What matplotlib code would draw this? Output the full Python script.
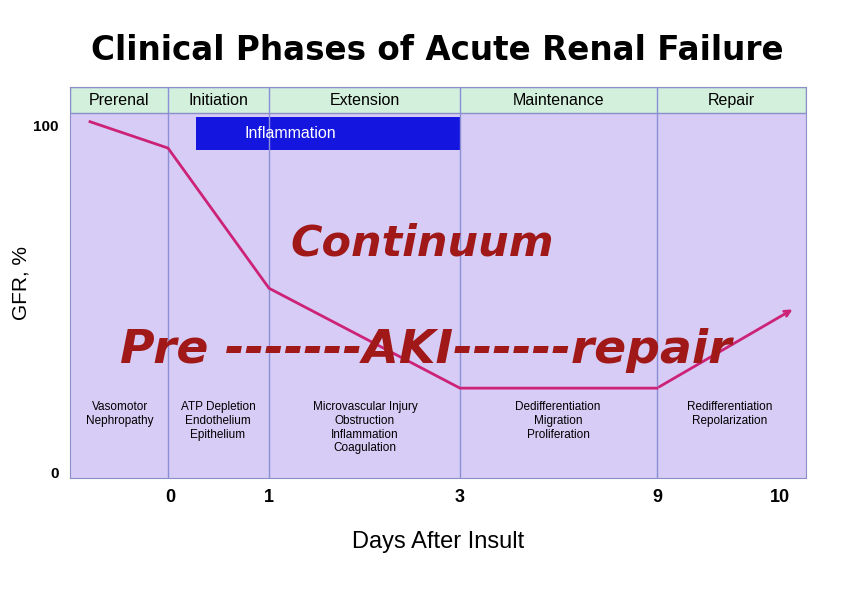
import matplotlib.pyplot as plt
from matplotlib.patches import Rectangle

# x axis uses positions (1 unit ~ 100 px); ticks labelled in days
phases = ['Prerenal', 'Initiation', 'Extension', 'Maintenance', 'Repair']
phase_edges = [0.0, 0.98, 1.99, 3.9, 5.87, 7.36]
tick_pos = [1.0, 1.99, 3.9, 5.87, 7.1]
tick_labels = ['0', '1', '3', '9', '10']

gfr_x = [0.2, 0.98, 1.99, 3.9, 5.87, 7.25]
gfr_y = [101, 93.4, 53, 24.2, 24.2, 47.3]

notes = [
    (0.5, 'Vasomotor\nNephropathy'),
    (1.48, 'ATP Depletion\nEndothelium\nEpithelium'),
    (2.95, 'Microvascular Injury\nObstruction\nInflammation\nCoagulation'),
    (4.88, 'Dedifferentiation\nMigration\nProliferation'),
    (6.6, 'Redifferentiation\nRepolarization'),
]

fig = plt.figure(figsize=(8.41, 5.90), dpi=100)
ax = fig.add_axes([70 / 841, 112 / 590, 736 / 841, 391 / 590])
ax.set_xlim(0, 7.36)
ax.set_ylim(-1.7, 111)
ax.set_facecolor('#d7ccf5')

# header band
ax.add_patch(Rectangle((0, 103.5), 7.36, 7.5, facecolor='#d2f0dc', edgecolor='#8a8fc8', lw=1))
for i, name in enumerate(phases):
    ax.text((phase_edges[i] + phase_edges[i + 1]) / 2, 107.2, name,
            ha='center', va='center', fontsize=11.5, family='Liberation Sans')
for e in phase_edges[1:-1]:
    ax.axvline(e, color='#8a8fd8', lw=1)

# inflammation bar
ax.add_patch(Rectangle((1.26, 92.8), 2.64, 9.5, facecolor='#1515e0', edgecolor='none'))
ax.text(2.2, 97.6, 'Inflammation', color='white', ha='center', va='center',
        fontsize=11.5, family='Liberation Sans')

ax.plot(gfr_x[:-1], gfr_y[:-1], color='#cc2277', lw=2)
ax.annotate('', xy=(gfr_x[-1], gfr_y[-1]), xytext=(gfr_x[-2], gfr_y[-2]),
            arrowprops=dict(arrowstyle='->', color='#cc2277', lw=2))

for x, t in notes:
    ax.text(x, 20.5, t, ha='center', va='top', fontsize=8.5, family='Liberation Sans',
            linespacing=1.2)

ax.text(2.2, 66, 'Continuum', color='#a01818', fontsize=31, style='italic',
        fontweight='bold', family='DejaVu Sans', va='center')
ax.text(0.5, 35, 'Pre -------AKI------repair', color='#a01818', fontsize=34,
        style='italic', fontweight='bold', family='DejaVu Sans', va='center')

ax.set_xticks(tick_pos)
ax.set_xticklabels(tick_labels, fontsize=13, fontweight='bold', family='Liberation Sans')
ax.set_yticks([0, 100])
ax.set_yticklabels(['0', '100'], fontsize=11, fontweight='bold', family='Liberation Sans')
ax.tick_params(length=0, pad=8)
ax.set_ylabel('GFR, %', fontsize=15, family='Liberation Sans', labelpad=2)
ax.set_xlabel('Days After Insult', fontsize=17, family='Liberation Sans', labelpad=18)
for s in ax.spines.values():
    s.set_color('#8a8fc8')

fig.text(0.52, 0.915, 'Clinical Phases of Acute Renal Failure', ha='center', va='center',
         fontsize=23.5, fontweight='bold', family='DejaVu Sans')

fig.savefig('out.png', dpi=100)
